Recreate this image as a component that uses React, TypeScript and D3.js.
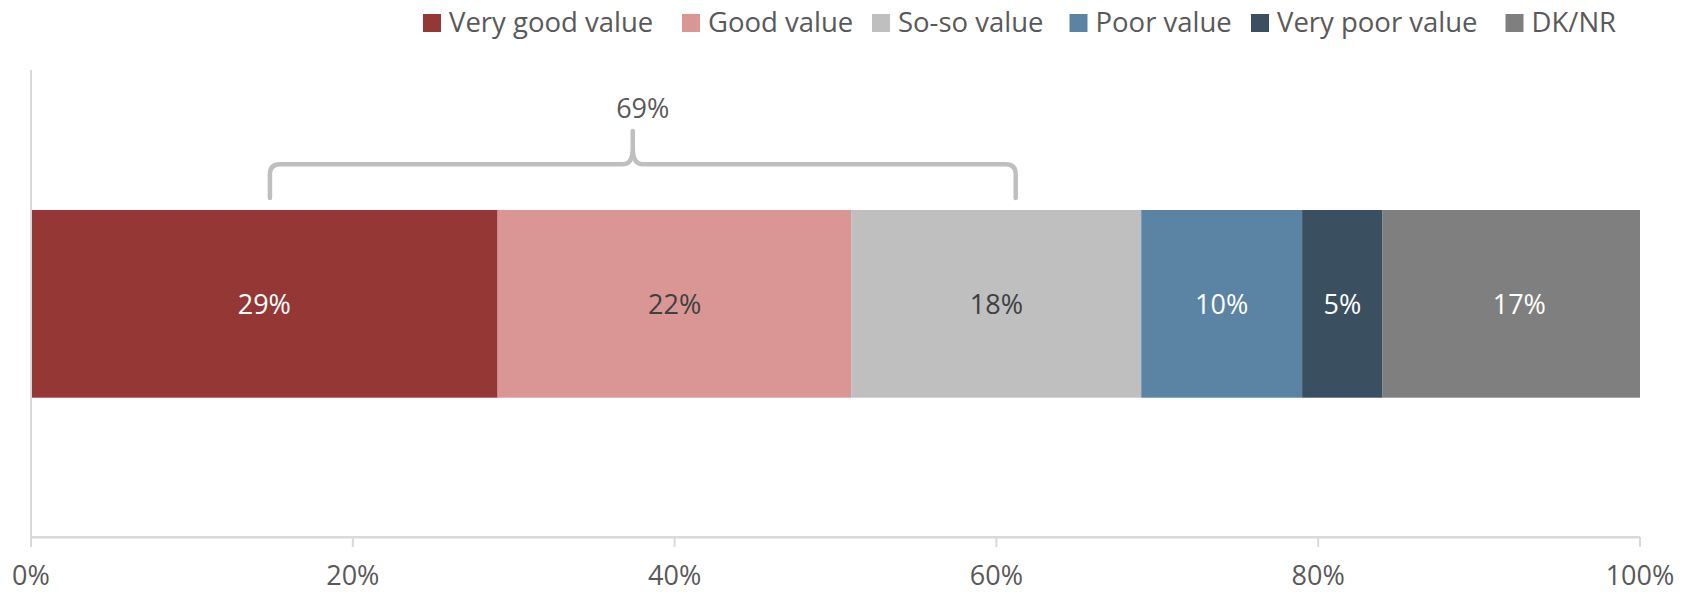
import React from "react";
import * as d3 from "d3";

const categories = ["Very good value", "Good value", "So-so value", "Poor value", "Very poor value", "DK/NR"];
const values = [29, 22, 18, 10, 5, 17];
const colors = ["#953735", "#D99694", "#BFBFBF", "#5B83A3", "#3A4F5F", "#7F7F7F"];
const labelColors = ["#FFFFFF", "#404040", "#404040", "#FFFFFF", "#FFFFFF", "#FFFFFF"];
const ticks = [0, 20, 40, 60, 80, 100];
const braceLabel = "69%";
const braceRange = [14.85, 61.2, 37.4]; // start, end, peak (percent)

const legendX = [423, 682, 872, 1069.5, 1251, 1505.5];

const W = 1688;
const H = 592;
const FONT = "'Open Sans', 'Noto Sans', sans-serif";
const TEXT = "#595959";

export default function App() {
  const x = d3.scaleLinear().domain([0, 100]).range([31, 1640]);
  const barTop = 210;
  const barBottom = 397.7;
  const axisY = 537.3;

  const stacked = values.reduce<{ start: number; end: number }[]>((acc, v) => {
    const s = acc.length ? acc[acc.length - 1].end : 0;
    acc.push({ start: s, end: s + v });
    return acc;
  }, []);

  const bx0 = x(braceRange[0]);
  const bx1 = x(braceRange[1]);
  const bpk = x(braceRange[2]);
  const by = 164.3;
  const byB = 198;
  const byT = 131;
  const r = 10;
  const bracePath =
    `M ${bx0} ${byB} L ${bx0} ${by + r} Q ${bx0} ${by} ${bx0 + r} ${by} ` +
    `L ${bpk - 10} ${by} Q ${bpk} ${by} ${bpk} ${by - 16} L ${bpk} ${byT} ` +
    `M ${bpk} ${by - 16} Q ${bpk} ${by} ${bpk + 10} ${by} ` +
    `L ${bx1 - r} ${by} Q ${bx1} ${by} ${bx1} ${by + r} L ${bx1} ${byB}`;

  return (
    <svg
      width={W}
      height={H}
      style={{ position: "absolute", left: 0, top: 0, background: "#fff" }}
      fontFamily={FONT}
    >
      <defs>
        <clipPath id="plotClip">
          <rect x={x(0)} y={0} width={x(100) - x(0)} height={H} />
        </clipPath>
      </defs>

      {/* Legend */}
      {categories.map((c, i) => (
        <g key={c}>
          <rect x={legendX[i]} y={14} width={18} height={18} fill={colors[i]} />
          <text x={legendX[i] + 26} y={32} fontSize={27.5} fill={TEXT}>
            {c}
          </text>
        </g>
      ))}

      {/* Vertical axis line */}
      <line x1={x(0)} x2={x(0)} y1={70} y2={axisY} stroke="#D9D9D9" strokeWidth={2} />

      {/* Bars */}
      <g clipPath="url(#plotClip)">
        {stacked.map((s, i) => (
          <rect
            key={categories[i]}
            x={x(s.start) + (i === 0 ? 1 : 0)}
            y={barTop}
            width={x(s.end) - x(s.start) - (i === 0 ? 1 : 0)}
            height={barBottom - barTop}
            fill={colors[i]}
          />
        ))}
      </g>
      {stacked.map((s, i) => (
        <text
          key={"l" + i}
          x={x((s.start + s.end) / 2)}
          y={(barTop + barBottom) / 2}
          textAnchor="middle"
          dominantBaseline="central"
          fontSize={27}
          fill={labelColors[i]}
        >
          {values[i]}%
        </text>
      ))}

      {/* Brace */}
      <path d={bracePath} fill="none" stroke="#BFBFBF" strokeWidth={4.5} strokeLinecap="round" strokeLinejoin="round" />
      <text x={bpk + 10} y={118} textAnchor="middle" fontSize={27} fill={TEXT}>
        {braceLabel}
      </text>

      {/* Horizontal axis */}
      <line x1={x(0) - 1} x2={x(100)} y1={axisY} y2={axisY} stroke="#D9D9D9" strokeWidth={2.5} />
      {ticks.map((t) => (
        <g key={t}>
          <line x1={x(t)} x2={x(t)} y1={axisY} y2={547} stroke="#D9D9D9" strokeWidth={2} />
          <text x={x(t)} y={585} textAnchor="middle" fontSize={27} fill={TEXT}>
            {t}%
          </text>
        </g>
      ))}
    </svg>
  );
}
